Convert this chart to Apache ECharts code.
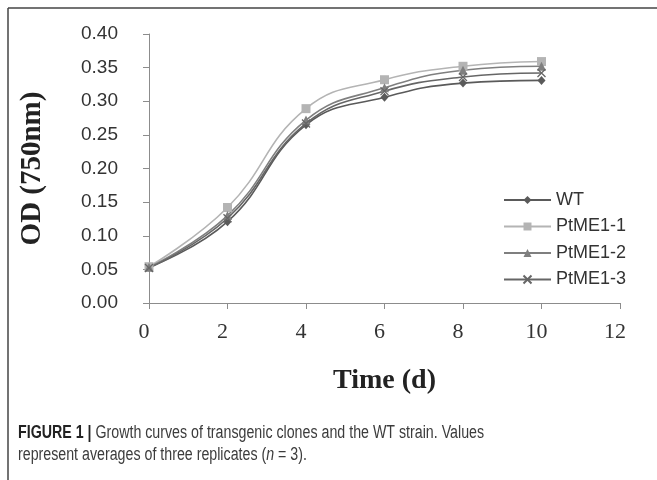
<!DOCTYPE html>
<html>
<head>
<meta charset="utf-8">
<script src="https://cdn.jsdelivr.net/npm/echarts@6/dist/echarts.min.js"></script>
<style>
html, body { margin: 0; padding: 0; background: #fff; }
#chart { width: 657px; height: 480px; }
</style>
</head>
<body>
<div id="chart"></div>
<script>
"use strict";

var days = [0, 2, 4, 6, 8, 10];
var wt = [0.053, 0.121, 0.265, 0.306, 0.327, 0.331];
var ptme11 = [0.054, 0.142, 0.289, 0.332, 0.352, 0.359];
var ptme12 = [0.053, 0.130, 0.272, 0.320, 0.346, 0.352];
var ptme13 = [0.052, 0.126, 0.267, 0.315, 0.336, 0.342];
var seriesNames = ["WT", "PtME1-1", "PtME1-2", "PtME1-3"];

function pairs(vals) {
    return days.map(function (d, i) { return [d, vals[i]]; });
}

function makeSeries(name, vals, color, symbol, size, extra) {
    var s = {
        name: name,
        type: "line",
        smooth: 0.45,
        symbol: symbol,
        symbolSize: size,
        data: pairs(vals),
        lineStyle: { color: color, width: 1.6 },
        itemStyle: { color: color },
        emphasis: { disabled: true }
    };
    if (extra) s.itemStyle = extra;
    return s;
}

var sans = "'Liberation Sans', Arial, sans-serif";
var serif = "'Liberation Serif', 'Times New Roman', serif";

var option = {
    animation: false,
    grid: { left: 149, right: 37, top: 34, bottom: 177 },
    legend: {
        orient: "vertical",
        left: 498,
        top: 185,
        itemWidth: 47,
        itemHeight: 10,
        itemGap: 6.5,
        data: seriesNames,
        textStyle: { fontFamily: sans, fontSize: 18, color: "#333", lineHeight: 20 }
    },
    xAxis: {
        type: "value",
        min: 0,
        max: 12,
        interval: 2,
        name: "Time (d)",
        nameLocation: "middle",
        nameGap: 64,
        nameTextStyle: { fontFamily: serif, fontWeight: "bold", fontSize: 28, color: "#222" },
        axisLine: { onZero: false, lineStyle: { color: "#8c8c8c", width: 1 } },
        axisTick: { show: true, length: 6, lineStyle: { color: "#8c8c8c" } },
        axisLabel: { fontFamily: serif, fontSize: 22, color: "#333", margin: 18, padding: [0, 10, 0, 0] },
        splitLine: { show: false }
    },
    yAxis: {
        type: "value",
        min: 0,
        max: 0.4,
        interval: 0.05,
        name: "OD (750nm)",
        nameLocation: "middle",
        nameGap: 102,
        nameRotate: 90,
        nameTextStyle: { fontFamily: serif, fontWeight: "bold", fontSize: 29, color: "#222" },
        axisLine: { show: true, lineStyle: { color: "#8c8c8c", width: 1 } },
        axisTick: { show: true, length: 6, lineStyle: { color: "#8c8c8c" } },
        axisLabel: {
            fontFamily: sans, fontSize: 19, color: "#333", margin: 31,
            formatter: function (v) { return v.toFixed(2); }
        },
        splitLine: { show: false }
    },
    graphic: [
        { type: "line", shape: { x1: 8, y1: 8, x2: 657, y2: 8 }, style: { stroke: "#444", lineWidth: 1.5 } },
        { type: "line", shape: { x1: 8, y1: 8, x2: 8, y2: 480 }, style: { stroke: "#444", lineWidth: 1.5 } },
        {
            type: "text",
            x: 18,
            y: 422,
            scaleX: 0.79,
            style: {
                text: "{b|FIGURE 1 |} Growth curves of transgenic clones and the WT strain. Values\nrepresent averages of three replicates ({i|n} = 3).",
                font: "18px " + sans,
                fill: "#3c3c3c",
                lineHeight: 22,
                rich: {
                    b: { fontFamily: sans, fontSize: 18, fontWeight: "bold", fill: "#222", lineHeight: 22 },
                    i: { fontFamily: sans, fontSize: 18, fontStyle: "italic", fill: "#3c3c3c", lineHeight: 22 }
                }
            }
        }
    ],
    series: [
        makeSeries(seriesNames[0], wt, "#5a5a5a", "diamond", [8, 9]),
        makeSeries(seriesNames[1], ptme11, "#b4b4b4", "rect", 9),
        makeSeries(seriesNames[2], ptme12, "#7f7f7f", "triangle", 9),
        makeSeries(seriesNames[3], ptme13, "#666666", "path://M0,0L10,10M10,0L0,10", 8,
            { color: "#666666", borderColor: "#666666", borderWidth: 1.3 })
    ]
};

echarts.init(document.getElementById("chart")).setOption(option);
</script>
</body>
</html>
